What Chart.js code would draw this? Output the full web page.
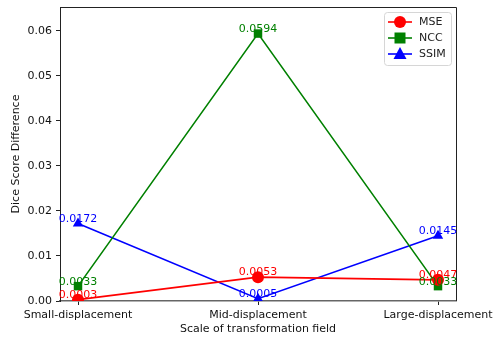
<!DOCTYPE html>
<html>
<head>
<meta charset="utf-8">
<script src="https://cdn.jsdelivr.net/npm/chart.js@4"></script>
<style>
  html, body { margin: 0; padding: 0; background: #fff; }
  #wrap { width: 493px; height: 339px; position: relative; }
</style>
</head>
<body>
<div id="wrap"><canvas id="c" width="493" height="339"></canvas></div>
<script>
// Deformation scales compared on the x axis
const categories = ['Small-displacement', 'Mid-displacement', 'Large-displacement'];
// Dice score difference per similarity loss
const mseValues  = [0.0003, 0.0053, 0.0047];
const nccValues  = [0.0033, 0.0594, 0.0033];
const ssimValues = [0.0172, 0.0005, 0.0145];
const seriesNames = ['MSE', 'NCC', 'SSIM'];
const yTicks = [0.00, 0.01, 0.02, 0.03, 0.04, 0.05, 0.06];

const FONT = 'DejaVu Sans';
const colors = ['#ff0000', '#008000', '#0000ff'];
const markers = ['circle', 'rect', 'triangle'];

const toPoints = vals => vals.map((v, i) => ({ x: i, y: v }));

const datasets = [mseValues, nccValues, ssimValues].map((vals, k) => ({
  label: seriesNames[k],
  data: toPoints(vals),
  borderColor: colors[k],
  backgroundColor: colors[k],
  borderWidth: 1.6,
  pointStyle: markers[k],
  pointRadius: 6,
  pointHoverRadius: 6,
  pointBorderWidth: 0,
  tension: 0
}));

// Value annotations above each point
const valueLabels = {
  id: 'valueLabels',
  afterDatasetsDraw(chart) {
    const ctx = chart.ctx;
    ctx.save();
    ctx.font = '11px "' + FONT + '"';
    ctx.textAlign = 'center';
    ctx.textBaseline = 'bottom';
    chart.data.datasets.forEach((ds, k) => {
      const meta = chart.getDatasetMeta(k);
      ctx.fillStyle = ds.borderColor;
      meta.data.forEach((pt, i) => {
        ctx.fillText(ds.data[i].y.toFixed(4), pt.x, pt.y + 1);
      });
    });
    ctx.restore();
  }
};

// Boxed legend with line + marker handles, upper right
const boxLegend = {
  id: 'boxLegend',
  afterDraw(chart) {
    const ctx = chart.ctx;
    const area = chart.chartArea;
    const w = 67, h = 53;
    const x0 = area.right - 5 - w, y0 = area.top + 5;
    ctx.save();
    ctx.beginPath();
    ctx.roundRect(x0 + 0.5, y0 + 0.5, w, h, 3);
    ctx.fillStyle = 'rgba(255,255,255,0.8)';
    ctx.fill();
    ctx.strokeStyle = '#d6d6d6';
    ctx.lineWidth = 1;
    ctx.stroke();
    ctx.font = '11px "' + FONT + '"';
    ctx.textBaseline = 'middle';
    ctx.textAlign = 'left';
    chart.data.datasets.forEach((ds, k) => {
      const cy = y0 + 10 + k * 16;
      const hx0 = x0 + 4, hx1 = x0 + 28, mx = (hx0 + hx1) / 2;
      ctx.strokeStyle = ds.borderColor;
      ctx.lineWidth = 1.6;
      ctx.beginPath();
      ctx.moveTo(hx0, cy);
      ctx.lineTo(hx1, cy);
      ctx.stroke();
      ctx.fillStyle = ds.borderColor;
      ctx.beginPath();
      if (ds.pointStyle === 'circle') {
        ctx.arc(mx, cy, 6, 0, Math.PI * 2);
      } else if (ds.pointStyle === 'rect') {
        ctx.rect(mx - 5.5, cy - 5.5, 11, 11);
      } else {
        ctx.moveTo(mx, cy - 7);
        ctx.lineTo(mx + 6.5, cy + 5);
        ctx.lineTo(mx - 6.5, cy + 5);
        ctx.closePath();
      }
      ctx.fill();
      ctx.fillStyle = '#222';
      ctx.fillText(ds.label, x0 + 35, cy + 0.5);
    });
    ctx.restore();
  }
};

// Frame around the plotting area (top and right spines)
const frame = {
  id: 'frame',
  beforeDatasetsDraw(chart) {
    const { ctx, chartArea: a } = chart;
    ctx.save();
    ctx.strokeStyle = '#222';
    ctx.lineWidth = 1;
    ctx.beginPath();
    ctx.moveTo(Math.round(a.left) + 0.5, Math.round(a.top) + 0.5);
    ctx.lineTo(Math.round(a.right) + 0.5, Math.round(a.top) + 0.5);
    ctx.lineTo(Math.round(a.right) + 0.5, Math.round(a.bottom));
    ctx.stroke();
    ctx.restore();
  }
};

new Chart(document.getElementById('c'), {
  type: 'line',
  data: { datasets },
  options: {
    responsive: false,
    animation: false,
    events: [],
    layout: { padding: { left: 0, right: 37, top: 7, bottom: 0 } },
    plugins: { legend: { display: false }, tooltip: { enabled: false } },
    scales: {
      x: {
        type: 'linear',
        min: -0.1,
        max: 2.1,
        afterBuildTicks(scale) {
          scale.ticks = categories.map((_, i) => ({ value: i }));
        },
        afterFit(scale) {
          scale.height = 38;
          scale.paddingLeft = 0;
          scale.paddingRight = 0;
        },
        ticks: {
          callback: v => categories[v],
          color: '#111',
          font: { family: FONT, size: 11 },
          padding: 4,
          maxRotation: 0,
          autoSkip: false
        },
        grid: { drawOnChartArea: false, tickLength: 4, color: '#222' },
        border: { color: '#666', width: 1.6 },
        title: {
          display: true,
          text: 'Scale of transformation field',
          color: '#111',
          font: { family: FONT, size: 11 },
          padding: { top: 1, bottom: 3 }
        }
      },
      y: {
        min: 0,
        max: 0.0653,
        afterBuildTicks(scale) {
          scale.ticks = yTicks.map(v => ({ value: v }));
        },
        afterFit(scale) {
          scale.width = 60;
          scale.paddingTop = 0;
          scale.paddingBottom = 0;
        },
        ticks: {
          callback: v => v.toFixed(2),
          color: '#111',
          font: { family: FONT, size: 11 },
          padding: 4
        },
        grid: { drawOnChartArea: false, tickLength: 4, color: '#222' },
        border: { color: '#222', width: 1 },
        title: {
          display: true,
          text: 'Dice Score Difference',
          color: '#111',
          font: { family: FONT, size: 11 },
          padding: { top: 10, bottom: 4 }
        }
      }
    }
  },
  plugins: [frame, valueLabels, boxLegend]
});
</script>
</body>
</html>
